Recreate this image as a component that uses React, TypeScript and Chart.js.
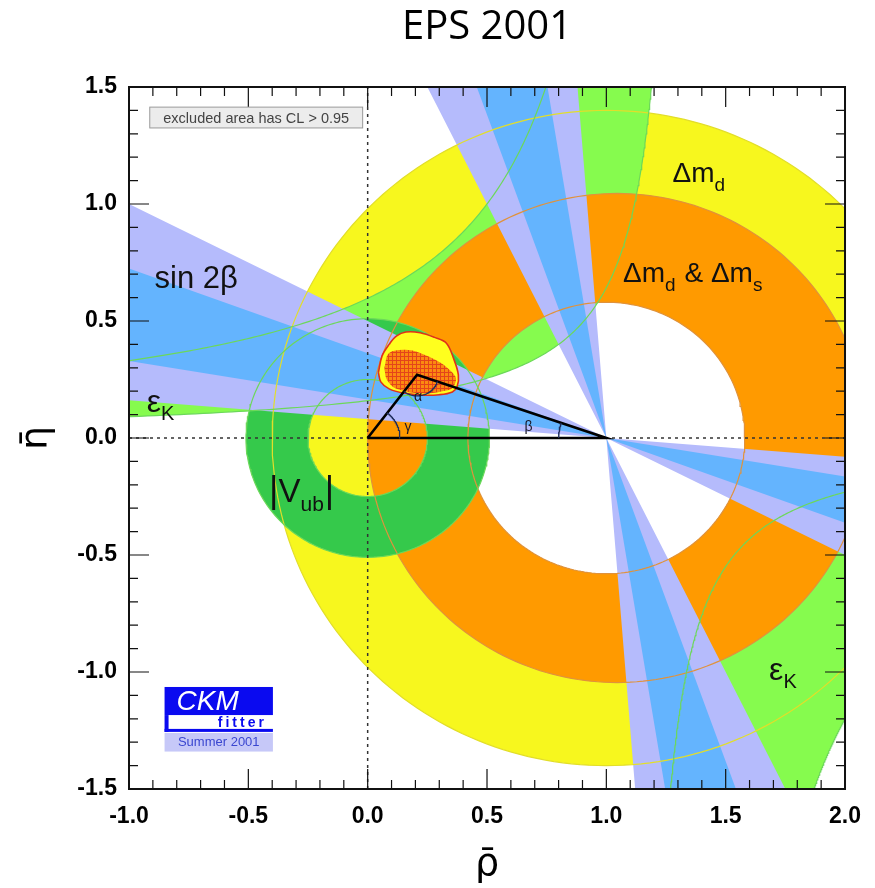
import React, { useEffect, useRef } from 'react';
import { Chart, registerables } from 'chart.js';

Chart.register(...registerables);

// ---------- text ----------
const TITLE = 'EPS 2001';
const X_TITLE = 'ρ\u0304';
const Y_TITLE = 'η\u0304';
const CL_NOTE = 'excluded area has CL > 0.95';

// ---------- axes ----------
const xLimits = [-1.0, 2.0];
const yLimits = [-1.5, 1.5];
const majorStep = 0.5;
const minorStep = 0.1;

// ---------- constraints ----------
// circles: [centre rho, centre eta, radius]
const dmdOuter = [1.0, 0.0, 1.40];
const dmdInner = [1.0, 0.0, 0.58];
const dmsOuter = [1.045, 0.0, 1.045];
const dmsInner = [1.0, 0.0, 0.58];
const vubOuter = [0.0, 0.0, 0.51];
const vubInner = [0.0, 0.0, 0.25];
// sin 2beta bands (wedges through (1,0))
const sin2bApex = [1.0, 0.0];
const sin2bOneSigma = [0.32, 0.64];
const sin2bTwoSigma = [0.16, 0.80];
// epsilon_K hyperbola edges  eta*(a - rho) = b  -> [a, b]
const epsUpperInner = [1.33, 0.212];
const epsUpperOuter = [1.24, 0.74];
const epsLowerInner = [1.136, 0.20];
const epsLowerOuter = [1.35, 0.78];
// global fit contours
const fitOuterRho = [0.045, 0.06, 0.09, 0.12, 0.16, 0.22, 0.28, 0.33, 0.36, 0.38, 0.375, 0.355, 0.30, 0.23, 0.15, 0.09, 0.055, 0.045];
const fitOuterEta = [0.28, 0.35, 0.40, 0.435, 0.453, 0.45, 0.43, 0.405, 0.34, 0.27, 0.22, 0.197, 0.185, 0.183, 0.192, 0.21, 0.24, 0.28];
const fitCoreRho = [0.07, 0.09, 0.17, 0.24, 0.30, 0.345, 0.37, 0.36, 0.34, 0.23, 0.12, 0.08, 0.07];
const fitCoreEta = [0.30, 0.363, 0.376, 0.355, 0.325, 0.29, 0.256, 0.22, 0.205, 0.19, 0.21, 0.25, 0.30];
// unitarity triangle apex
const apex = [0.207, 0.27];

// ---------- colours ----------
const C = {
  yellow: '#f7f71e',
  orange: '#ff9a00',
  epsK: '#86fb4e',
  vub: '#35c94b',
  blue: '#64b4fe',
  lav: '#b5bbfc',
  yLine: '#e2de2a',
  oLine: '#e0923c',
  gLine: '#6cd85a',
};

const deg = Math.PI / 180;
type P = { x: number; y: number };

function arcPts(c: number[], a0: number, a1: number, n = 240): P[] {
  const [cx, cy, r] = c;
  const pts: P[] = [];
  for (let i = 0; i <= n; i++) {
    const t = a0 + ((a1 - a0) * i) / n;
    pts.push({ x: cx + r * Math.cos(t), y: cy + r * Math.sin(t) });
  }
  return pts;
}
function ringPts(outer: number[], inner: number[]): P[] {
  return [...arcPts(outer, 0, 2 * Math.PI), ...arcPts(inner, 2 * Math.PI, 0)];
}
function sin2bAngles(range: number[]): number[][] {
  const b1 = Math.asin(range[0]) / 2 / deg;
  const b2 = Math.asin(range[1]) / 2 / deg;
  return [
    [180 - b2, 180 - b1],
    [90 + b1, 90 + b2],
    [-b2, -b1],
    [b1 - 90, b2 - 90],
  ];
}
function wedgePts(ap: number[], angles: number[][], L = 6): P[] {
  const [ax, ay] = ap;
  const pts: P[] = [{ x: ax, y: ay }];
  for (const [a0, a1] of angles) {
    pts.push({ x: ax + L * Math.cos(a0 * deg), y: ay + L * Math.sin(a0 * deg) });
    pts.push({ x: ax + L * Math.cos(a1 * deg), y: ay + L * Math.sin(a1 * deg) });
    pts.push({ x: ax, y: ay });
  }
  return pts;
}
function hypUpper(p: number[], xMin = -1.3, yMax = 1.8, n = 200): P[] {
  const [a, b] = p;
  const u0 = a - xMin;
  const u1 = b / yMax;
  const pts: P[] = [];
  for (let i = 0; i <= n; i++) {
    const u = u0 * Math.pow(u1 / u0, i / n);
    pts.push({ x: a - u, y: b / u });
  }
  return pts;
}
function hypLower(p: number[], yMin = -1.8, xMax = 2.2, n = 200): P[] {
  const [a, b] = p;
  const u0 = b / Math.abs(yMin);
  const u1 = xMax - a;
  const pts: P[] = [];
  for (let i = 0; i <= n; i++) {
    const u = u0 * Math.pow(u1 / u0, i / n);
    pts.push({ x: a + u, y: -b / u });
  }
  return pts;
}
const zip = (xs: number[], ys: number[]): P[] => xs.map((x, i) => ({ x, y: ys[i] }));

function makePattern(): CanvasPattern | string {
  const pc = document.createElement('canvas');
  pc.width = 4;
  pc.height = 4;
  const g = pc.getContext('2d');
  if (!g) return C.orange;
  g.fillStyle = '#fb8a10';
  g.fillRect(0, 0, 4, 4);
  g.fillStyle = '#e4441a';
  g.fillRect(0, 0, 4, 1);
  g.fillRect(0, 0, 1, 4);
  const pat = g.createPattern(pc, 'repeat');
  return pat || C.orange;
}

function buildDatasets(pattern: CanvasPattern | string) {
  const layers: any[] = [];
  const area = (data: P[], color: any, extra: any = {}) =>
    layers.push({
      data,
      backgroundColor: color,
      borderColor: 'rgba(0,0,0,0)',
      borderWidth: 0,
      fill: 'shape',
      pointRadius: 0,
      tension: 0,
      ...extra,
    });
  const line = (data: P[], color: string, width: number, extra: any = {}) =>
    layers.push({
      data,
      borderColor: color,
      borderWidth: width,
      fill: false,
      pointRadius: 0,
      tension: 0,
      ...extra,
    });

  area(ringPts(dmdOuter, dmdInner), C.yellow);
  area([...hypUpper(epsUpperInner), ...hypUpper(epsUpperOuter).reverse()], C.epsK);
  area([...hypLower(epsLowerInner), ...hypLower(epsLowerOuter).reverse()], C.epsK);
  area(ringPts(dmsOuter, dmsInner), C.orange);
  area(ringPts(vubOuter, vubInner), C.vub);
  area(wedgePts(sin2bApex, sin2bAngles(sin2bTwoSigma)), C.lav);
  area(wedgePts(sin2bApex, sin2bAngles(sin2bOneSigma)), C.blue);

  line(arcPts(dmdOuter, 0, 2 * Math.PI), C.yLine, 1.2);
  line(arcPts(dmsOuter, 0, 2 * Math.PI), C.oLine, 1.2);
  line(arcPts(dmsInner, 0, 2 * Math.PI), C.oLine, 1.2);
  line(arcPts(vubOuter, 0, 2 * Math.PI), C.gLine, 1.2);
  line(arcPts(vubInner, 0, 2 * Math.PI), C.gLine, 1.2);
  line(hypUpper(epsUpperInner), C.gLine, 1.2);
  line(hypUpper(epsUpperOuter), C.gLine, 1.2);
  line(hypLower(epsLowerInner), C.gLine, 1.2);
  line(hypLower(epsLowerOuter), C.gLine, 1.2);

  line([{ x: 0, y: yLimits[0] }, { x: 0, y: yLimits[1] }], '#333', 1.5, { borderDash: [3, 4] });
  line([{ x: xLimits[0], y: 0 }, { x: xLimits[1], y: 0 }], '#333', 1.5, { borderDash: [3, 4] });

  area(zip(fitOuterRho, fitOuterEta), '#ffff1e', { borderColor: '#e0301a', borderWidth: 1.6, tension: 0.35 });
  area(zip(fitCoreRho, fitCoreEta), pattern, { tension: 0.35 });

  line(
    [
      { x: 0, y: 0 },
      { x: 1, y: 0 },
      { x: apex[0], y: apex[1] },
      { x: 0, y: 0 },
    ],
    '#000',
    2.6
  );
  const aToO = Math.atan2(-apex[1], -apex[0]);
  const aToOne = Math.atan2(-apex[1], 1 - apex[0]);
  line(arcPts([apex[0], apex[1], 0.09], aToO + 2 * Math.PI, aToOne + 2 * Math.PI, 60), '#1f2d5c', 1.3);
  line(arcPts([0, 0, 0.135], 0, Math.atan2(apex[1], apex[0]), 60), '#1f2d5c', 1.3);
  line(arcPts([1, 0, 0.2], Math.atan2(apex[1], apex[0] - 1), Math.PI, 60), '#1f2d5c', 1.3);

  const n = layers.length;
  return layers.map((d, i) => ({ ...d, order: n - i }));
}

const FONT = "'Liberation Sans', Arial, Helvetica, sans-serif";
const TITLE_FONT = "'DejaVu Sans', 'Liberation Sans', sans-serif";

const framePlugin = {
  id: 'frameTicks',
  afterDatasetsDraw(chart: any) {
    const { ctx, chartArea: a, scales } = chart;
    const xs = scales.x;
    const ys = scales.y;
    ctx.save();
    ctx.strokeStyle = '#111';
    ctx.lineWidth = 1.2;
    ctx.beginPath();
    const nx = Math.round((xLimits[1] - xLimits[0]) / minorStep);
    for (let i = 0; i <= nx; i++) {
      const v = xLimits[0] + i * minorStep;
      const major = Math.abs(v / majorStep - Math.round(v / majorStep)) < 1e-6;
      const L = major ? 20 : 9;
      const px = xs.getPixelForValue(v);
      ctx.moveTo(px, a.bottom);
      ctx.lineTo(px, a.bottom - L);
      ctx.moveTo(px, a.top);
      ctx.lineTo(px, a.top + L);
    }
    const ny = Math.round((yLimits[1] - yLimits[0]) / minorStep);
    for (let i = 0; i <= ny; i++) {
      const v = yLimits[0] + i * minorStep;
      const major = Math.abs(v / majorStep - Math.round(v / majorStep)) < 1e-6;
      const L = major ? 20 : 9;
      const py = ys.getPixelForValue(v);
      ctx.moveTo(a.left, py);
      ctx.lineTo(a.left + L, py);
      ctx.moveTo(a.right, py);
      ctx.lineTo(a.right - L, py);
    }
    ctx.stroke();
    ctx.lineWidth = 2;
    ctx.strokeRect(a.left, a.top, a.right - a.left, a.bottom - a.top);
    ctx.restore();
  },
};

function subText(ctx: any, x: number, y: number, parts: [string, number, number][]) {
  let cx = x;
  for (const [txt, size, dy] of parts) {
    ctx.font = `${size}px ${FONT}`;
    ctx.fillText(txt, cx, y + dy);
    cx += ctx.measureText(txt).width + (dy ? 1 : 0);
  }
  return cx;
}

const labelPlugin = {
  id: 'labels',
  afterDraw(chart: any) {
    const { ctx, scales } = chart;
    const X = (v: number) => scales.x.getPixelForValue(v);
    const Y = (v: number) => scales.y.getPixelForValue(v);
    ctx.save();
    ctx.fillStyle = '#111';
    ctx.textAlign = 'left';
    ctx.textBaseline = 'alphabetic';

    subText(ctx, X(-0.893), Y(0.641), [['sin 2β', 31, 0]]);
    subText(ctx, X(1.277), Y(1.094), [['Δm', 28, 0], ['d', 19, 9]]);
    subText(ctx, X(1.07), Y(0.667), [['Δm', 28, 0], ['d', 19, 9], [' & Δm', 28, 0], ['s', 19, 9]]);
    subText(ctx, X(-0.926), Y(0.111), [['ε', 32, 0], ['K', 20, 8]]);
    subText(ctx, X(1.682), Y(-1.034), [['ε', 32, 0], ['K', 20, 8]]);
    subText(ctx, X(-0.413), Y(-0.274), [['|', 36, 0], ['V', 33, 0], ['ub', 21, 9], ['|', 36, 0]]);

    ctx.fillStyle = '#1a1a2a';
    ctx.textAlign = 'center';
    ctx.textBaseline = 'middle';
    ctx.font = `14px ${FONT}`;
    ctx.fillText('α', X(0.211), Y(0.175));
    ctx.fillText('γ', X(0.169), Y(0.047));
    ctx.fillText('β', X(0.674), Y(0.047));

    // CL note box
    const bx0 = X(-0.913), bx1 = X(-0.021), by0 = Y(1.414), by1 = Y(1.325);
    ctx.fillStyle = '#ececec';
    ctx.fillRect(bx0, by0, bx1 - bx0, by1 - by0);
    ctx.strokeStyle = '#9a9a9a';
    ctx.lineWidth = 1;
    ctx.strokeRect(bx0, by0, bx1 - bx0, by1 - by0);
    ctx.fillStyle = '#444';
    ctx.font = `14.5px ${FONT}`;
    ctx.fillText(CL_NOTE, (bx0 + bx1) / 2, (by0 + by1) / 2 + 1);

    // CKMfitter logo
    const lx0 = X(-0.851), lx1 = X(-0.397);
    const l1 = Y(-1.064), l2 = Y(-1.184), l3 = Y(-1.256), l4 = Y(-1.34);
    ctx.fillStyle = '#0a0af0';
    ctx.fillRect(lx0, l1, lx1 - lx0, l2 - l1);
    ctx.fillStyle = '#ffffff';
    ctx.font = `italic 28px ${FONT}`;
    ctx.textAlign = 'left';
    ctx.fillText('CKM', lx0 + 12, (l1 + l2) / 2 + 1);
    ctx.fillStyle = '#0a0af0';
    ctx.fillRect(lx0, l2, 4, l3 - l2);
    ctx.fillRect(lx0, l3 - 3, lx1 - lx0, 3);
    ctx.font = `bold 14px ${FONT}`;
    ctx.textAlign = 'right';
    (ctx as any).letterSpacing = '3px';
    ctx.fillText('fitter', lx1 - 6, (l2 + l3) / 2);
    (ctx as any).letterSpacing = '0px';
    ctx.fillStyle = '#c6c8f8';
    ctx.fillRect(lx0, l3 + 1, lx1 - lx0, l4 - l3 - 1);
    ctx.fillStyle = '#3a46d0';
    ctx.font = `13px ${FONT}`;
    ctx.textAlign = 'center';
    ctx.fillText('Summer 2001', (lx0 + lx1) / 2, (l3 + l4) / 2 + 1);
    ctx.restore();
  },
};

export default function App() {
  const ref = useRef<HTMLCanvasElement>(null);
  useEffect(() => {
    const canvas = ref.current;
    if (!canvas) return;
    const datasets = buildDatasets(makePattern());
    const tickFont = { family: FONT, size: 23, weight: 'bold' as const };
    const chart = new Chart(canvas, {
      type: 'line',
      data: { datasets: datasets as any },
      options: {
        animation: false,
        responsive: false,
        events: [],
        layout: { padding: { left: 0, right: 20, top: 0, bottom: 0 } },
        plugins: {
          legend: { display: false },
          tooltip: { enabled: false },
          title: {
            display: true,
            text: TITLE,
            fullSize: false,
            color: '#000',
            font: { family: "'Open Sans', sans-serif", size: 40, weight: 'normal' as any, lineHeight: 1.2 },
            padding: { top: 4, bottom: 35 },
          },
        },
        scales: {
          x: {
            type: 'linear',
            min: xLimits[0],
            max: xLimits[1],
            grid: { display: false, drawTicks: false },
            border: { display: false },
            ticks: {
              stepSize: majorStep,
              autoSkip: false,
              maxRotation: 0,
              padding: 14,
              color: '#000',
              font: tickFont,
              callback: (v: any) => Number(v).toFixed(1),
            },
            title: {
              display: true,
              text: X_TITLE,
              color: '#000',
              font: { family: TITLE_FONT, size: 38, lineHeight: 1 },
              padding: { top: 0, bottom: 4 },
            },
            afterFit: (s: any) => {
              s.height = 99;
            },
          },
          y: {
            type: 'linear',
            min: yLimits[0],
            max: yLimits[1],
            grid: { display: false, drawTicks: false },
            border: { display: false },
            ticks: {
              stepSize: majorStep,
              autoSkip: false,
              padding: 12,
              color: '#000',
              font: tickFont,
              callback: (v: any) => Number(v).toFixed(1),
            },
            title: {
              display: true,
              text: Y_TITLE,
              color: '#000',
              font: { family: TITLE_FONT, size: 38, lineHeight: 1 },
              padding: { top: 18, bottom: 0 },
            },
            afterFit: (s: any) => {
              s.width = 129;
            },
          },
        },
      } as any,
      plugins: [framePlugin, labelPlugin],
    });
    return () => chart.destroy();
  }, []);
  return (
    <div style={{ position: 'absolute', left: 0, top: 0, width: 875, height: 888, background: '#fff' }}>
      <canvas ref={ref} width={875} height={888} style={{ width: 875, height: 888, display: 'block' }} />
    </div>
  );
}
